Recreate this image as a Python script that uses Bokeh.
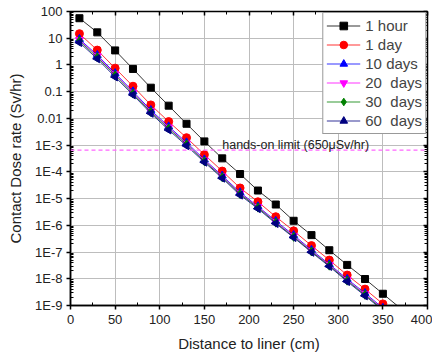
import numpy as np
from bokeh.plotting import figure
from bokeh.models import (FixedTicker, LinearAxis, LogAxis, Span, Label,
                          Legend, Range1d, CustomJSTickFormatter)
from bokeh.embed import file_html
from bokeh.resources import INLINE

# ---------------- data ----------------
distance = [10, 30, 50, 70, 90, 110, 130, 150, 170, 190, 210, 230, 250, 270, 290, 310, 330, 350]

dose_1hour = [56, 16.6, 3.5, 0.71, 0.141, 0.030, 6.3e-3, 1.38e-3, 3.2e-4, 8.3e-5, 2.0e-5,
              6.0e-6, 1.48e-6, 4.3e-7, 1.17e-7, 3.3e-8, 9.8e-9, 2.75e-9]
dose_1day = [14.8, 3.6, 0.76, 0.16, 0.032, 7.6e-3, 1.9e-3, 4.4e-4, 1.07e-4, 2.5e-5, 7.6e-6,
             2.1e-6, 6.2e-7, 1.74e-7, 5.0e-8, 1.38e-8, 4.1e-9, 1.15e-9]
dose_10days = [9.3, 2.34, 0.49, 0.102, 0.0204, 5.0e-3, 1.26e-3, 2.9e-4, 7.2e-5, 1.7e-5, 5.1e-6,
               1.45e-6, 4.3e-7, 1.2e-7, 3.5e-8, 9.8e-9, 2.9e-9, 8.1e-10]
dose_20days = [8.7, 2.14, 0.45, 0.093, 0.0186, 4.6e-3, 1.15e-3, 2.7e-4, 6.8e-5, 1.58e-5, 4.9e-6,
               1.35e-6, 4.0e-7, 1.12e-7, 3.3e-8, 9.1e-9, 2.7e-9, 7.6e-10]
dose_30days = [7.9, 1.95, 0.41, 0.085, 0.0174, 4.2e-3, 1.07e-3, 2.5e-4, 6.3e-5, 1.48e-5, 4.6e-6,
               1.26e-6, 3.7e-7, 1.05e-7, 3.1e-8, 8.5e-9, 2.5e-9, 7.1e-10]
dose_60days = [6.9, 1.7, 0.355, 0.076, 0.0155, 3.7e-3, 9.5e-4, 2.3e-4, 5.8e-5, 1.35e-5, 4.2e-6,
               1.17e-6, 3.5e-7, 9.8e-8, 2.9e-8, 7.9e-9, 2.3e-9, 6.6e-10]

series_labels = ["1 hour", "1 day", "10 days", "20\u00a0 days", "30\u00a0 days", "60\u00a0 days"]
hands_on_limit = 6.5e-4
limit_text = "hands-on limit (650\u03bcSv/hr)"

x_ticks = [0, 50, 100, 150, 200, 250, 300, 350, 400]
y_ticks = [1e2, 1e1, 1e0, 1e-1, 1e-2, 1e-3, 1e-4, 1e-5, 1e-6, 1e-7, 1e-8, 1e-9]
y_tick_labels = ["100", "10", "1", "0.1", "0.01", "1E-3", "1E-4", "1E-5", "1E-6", "1E-7",
                 "1E-8", "1E-9"]
line_end_x = 370

# ---------------- styles ----------------
FONT = "Liberation Sans"
colors = ["black", "red", "blue", "#ff00ff", "#008000", "#000080"]
markers = ["square", "circle", "triangle", "inverted_triangle", "diamond", "triangle"]
angles = [0.0, 0.0, 0.0, 0.0, 0.0, float(np.pi / 2)]
sizes = [7, 8, 8, 8, 9, 8]
all_series = [dose_1hour, dose_1day, dose_10days, dose_20days, dose_30days, dose_60days]

p = figure(frame_width=357, frame_height=294,
           x_axis_type="linear", y_axis_type="log",
           x_range=Range1d(0, 400), y_range=Range1d(1e-9, 100),
           output_backend="svg", toolbar_location=None,
           min_border_left=70, min_border_top=11, min_border_right=5, min_border_bottom=45)
p.outline_line_color = "black"
p.outline_line_width = 1.5
p.background_fill_color = "white"

minor_y = [m * t for t in y_ticks[1:] for m in range(2, 10)]
x_minor = [25 + 50 * i for i in range(8)]

xa = p.xaxis[0]
xa.ticker = FixedTicker(ticks=x_ticks, minor_ticks=x_minor)
xa.axis_label = "Distance to liner (cm)"
ya = p.yaxis[0]
ya.ticker = FixedTicker(ticks=y_ticks, minor_ticks=minor_y)
ya.formatter = CustomJSTickFormatter(args=dict(labels=y_tick_labels), code="""
    const e = Math.round(Math.log10(tick));
    return labels[2 - e];
""")
ya.axis_label = "Contact Dose rate (Sv/hr)"

for ax in (xa, ya):
    ax.axis_line_color = "black"
    ax.axis_line_width = 1.5
    ax.major_tick_line_color = "black"
    ax.minor_tick_line_color = "black"
    ax.major_tick_line_width = 1.5
    ax.major_tick_out = 4
    ax.major_tick_in = 0
    ax.minor_tick_in = 3
    ax.minor_tick_out = 0
    ax.major_label_text_font = FONT
    ax.major_label_text_font_size = "13px"
    ax.major_label_text_color = "#222222"
    ax.axis_label_text_font = FONT
    ax.axis_label_text_font_size = "15px"
    ax.axis_label_text_font_style = "normal"
    ax.axis_label_text_color = "#222222"
xa.major_label_standoff = 5
xa.axis_label_standoff = 8
ya.major_label_standoff = 4
ya.axis_label_standoff = 8

# mirrored axes (ticks only, no labels)
blank = CustomJSTickFormatter(code="return '';")
top = LinearAxis(ticker=FixedTicker(ticks=x_ticks, minor_ticks=x_minor), formatter=blank,
                 major_label_standoff=0)
right = LogAxis(ticker=FixedTicker(ticks=y_ticks, minor_ticks=minor_y), formatter=blank,
                major_label_standoff=0)
for ax in (top, right):
    ax.axis_line_color = "black"
    ax.major_tick_in = 4
    ax.major_tick_out = 0
    ax.minor_tick_in = 3
    ax.minor_tick_out = 0
    ax.major_tick_line_width = 1.5
    ax.major_label_text_font_size = "2px"
p.add_layout(top, "above")
p.add_layout(right, "right")

p.xgrid.ticker = FixedTicker(ticks=x_ticks)
p.ygrid.ticker = FixedTicker(ticks=y_ticks)
for g in (p.xgrid[0], p.ygrid[0]):
    g.grid_line_color = "#bdbdbd"
    g.grid_line_width = 1

limit = Span(location=hands_on_limit, dimension="width", line_color="#ff66ff",
             line_dash="4 3", line_width=1.2)
p.add_layout(limit)
p.add_layout(Label(x=170, y=hands_on_limit, text=limit_text, y_offset=5,
                   text_font=FONT, text_font_size="12.5px", text_color="#222222",
                   text_baseline="alphabetic"))

items = []
for ys, lab, c, m, a, s in zip(all_series, series_labels, colors, markers, angles, sizes):
    ly = np.log10(ys)
    slope = (ly[-1] - ly[-2]) / (distance[-1] - distance[-2])
    lx = list(distance) + [line_end_x]
    lyy = list(ys) + [float(10 ** (ly[-1] + slope * (line_end_x - distance[-1])))]
    r1 = p.line(lx, lyy, line_color=c, line_width=1, line_alpha=0.8)
    r2 = p.scatter(distance, ys, marker=m, angle=a, size=s, fill_color=c, line_color=c)
    items.append((lab, [r1, r2]))

legend = Legend(items=items, location="top_right", margin=1, padding=3, spacing=0,
                label_text_font=FONT, label_text_font_size="15px",
                label_height=19, glyph_height=19, glyph_width=34, label_standoff=5,
                border_line_color="#333333", border_line_width=1,
                background_fill_color="white", background_fill_alpha=1)
p.add_layout(legend)

open("out.html", "w").write(file_html(p, INLINE))
